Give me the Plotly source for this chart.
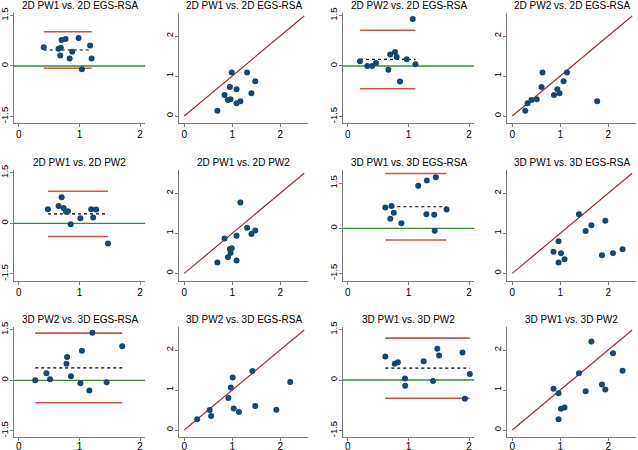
import numpy as np
import plotly.graph_objects as go

pw1_2d = [0.69, 0.84, 0.91, 0.965, 0.95, 0.99, 1.09, 1.09, 1.17, 1.31, 1.40, 1.48]
pw2_2d = [0.27, 0.87, 0.40, 0.51, 0.61, 0.63, 0.94, 0.32, 1.77, 1.14, 0.985, 1.07]
egs_2d = [0.13, 0.525, 0.40, 0.42, 0.725, 1.09, 0.67, 0.32, 0.37, 1.09, 0.57, 0.87]
pw1_3d = [0.86, 0.965, 0.965, 1.015, 1.09, 1.39, 1.53, 1.65, 1.87, 1.94, 2.10, 2.30]
pw2_3d = [1.03, 0.92, 0.27, 0.53, 0.56, 1.42, 0.97, 2.21, 1.14, 1.01, 1.92, 1.48]
egs_3d = [0.54, 0.80, 0.27, 0.50, 0.35, 1.475, 1.06, 1.20, 0.45, 1.315, 0.505, 0.60]

titles = ["2D PW1 vs. 2D EGS-RSA", "2D PW2 vs. 2D EGS-RSA",
          "2D PW1 vs. 2D PW2", "3D PW1 vs. 3D EGS-RSA",
          "3D PW2 vs. 3D EGS-RSA", "3D PW1 vs. 3D PW2"]
pairs = [(pw1_2d, egs_2d), (pw2_2d, egs_2d), (pw1_2d, pw2_2d),
         (pw1_3d, egs_3d), (pw2_3d, egs_3d), (pw1_3d, pw2_3d)]

ba_xticks = [0, 1, 2]
ba_yticks = [-1.5, 0, 1.5]
ba_ytick_labels = ["-1.5", "0", "1.5"]
sc_ticks = [0, 1, 2]
identity_span = [0, 2.5]

# ---- layout geometry (pixels) ----
W, H = 638, 450
col_px = [(14, 145), (179, 308), (343, 474), (507, 636)]
row_px = [(12.5, 122.5), (170, 281), (327, 437)]
title_px = [5.5, 162.5, 319]
x_standoff = [-1, -1, -3]
ba_yranges = {0: [-1.68, 1.59], 1: [-1.68, 1.59], 2: [-1.71, 1.58],
              3: [-1.757, 1.943], 4: [-1.684, 1.583], 5: [-1.693, 1.574]}
ba_xrange = [-0.08, 2.08]
sc_xrange = [-0.11, 2.58]
sc_yranges = [[-0.1625, 2.5875], [-0.19, 2.58], [-0.175, 2.575]]

NAVY = "#1a476f"
MAROON = "#90353b"
RED = "#cf5548"
GREEN = "#3a8a3a"
AXIS = "#808080"
FONT = "Liberation Sans, Arial, sans-serif"

fig = go.Figure()
layout = dict(width=W, height=H, margin=dict(l=0, r=0, t=0, b=0, autoexpand=False),
              paper_bgcolor="white", plot_bgcolor="white", template="none",
              showlegend=False, font=dict(family=FONT, color="black"))
shapes = []
annotations = []


def xd(p):
    return [p[0] / W, p[1] / W]


def yd(p):
    return [1 - p[1] / H, 1 - p[0] / H]


def axis_style(size=10, standoff=-1):
    return dict(showline=True, linecolor=AXIS, linewidth=1, ticks="outside",
                ticklen=3, tickcolor=AXIS, tickwidth=1, showgrid=False,
                zeroline=False, automargin=False, ticklabelstandoff=standoff,
                tickfont=dict(size=size, family=FONT, color="black"))


def names(i):
    s = "" if i == 1 else str(i)
    return f"x{s}", f"y{s}", f"xaxis{s}", f"yaxis{s}"


idx = 0
for k, (title, (a, b)) in enumerate(zip(titles, pairs)):
    row = k // 2
    col0 = (k % 2) * 2
    a = np.array(a)
    b = np.array(b)
    means = (a + b) / 2
    diffs = a - b
    md = diffs.mean()
    sd = diffs.std(ddof=1)
    lo, hi = md - 1.96 * sd, md + 1.96 * sd
    span = [means.min(), means.max()]

    # ---- Bland-Altman panel ----
    idx += 1
    xa, ya, xk, yk = names(idx)
    xs = axis_style(10, x_standoff[row])
    xs.update(domain=xd(col_px[col0]), range=ba_xrange, anchor=ya,
              tickvals=ba_xticks, ticktext=[str(v) for v in ba_xticks])
    ys = axis_style(9.5, -2)
    ys.update(domain=yd(row_px[row]), range=ba_yranges[k], anchor=xa,
              tickvals=ba_yticks, ticktext=ba_ytick_labels, tickangle=-90)
    layout[xk] = xs
    layout[yk] = ys
    shapes.append(dict(type="line", xref=f"{xa} domain", yref=ya, x0=0, x1=1,
                       y0=0, y1=0, line=dict(color=GREEN, width=1.3), layer="below"))
    for yv in (hi, lo):
        fig.add_trace(go.Scatter(x=span, y=[yv, yv], mode="lines", xaxis=xa, yaxis=ya,
                                 line=dict(color=RED, width=1.6), hoverinfo="skip"))
    fig.add_trace(go.Scatter(x=span, y=[md, md], mode="lines", xaxis=xa, yaxis=ya,
                             line=dict(color="black", width=1.2, dash="3px,3px"),
                             hoverinfo="skip"))
    fig.add_trace(go.Scatter(x=means, y=diffs, mode="markers", xaxis=xa, yaxis=ya,
                             marker=dict(color=NAVY, size=6, line=dict(width=0))))
    annotations.append(dict(text=title, xref="paper", yref="paper",
                            x=sum(xd(col_px[col0])) / 2, y=1 - title_px[row] / H,
                            xanchor="center", yanchor="middle", showarrow=False,
                            font=dict(size=10, family=FONT, color="black")))

    # ---- scatter panel ----
    idx += 1
    xa, ya, xk, yk = names(idx)
    xs = axis_style(10, x_standoff[row])
    xs.update(domain=xd(col_px[col0 + 1]), range=sc_xrange, anchor=ya,
              tickvals=sc_ticks, ticktext=[str(v) for v in sc_ticks])
    ys = axis_style(9.5, -2)
    ys.update(domain=yd(row_px[row]), range=sc_yranges[row], anchor=xa,
              tickvals=sc_ticks, ticktext=[str(v) for v in sc_ticks], tickangle=-90)
    layout[xk] = xs
    layout[yk] = ys
    fig.add_trace(go.Scatter(x=identity_span, y=identity_span, mode="lines",
                             xaxis=xa, yaxis=ya, line=dict(color=MAROON, width=1.2),
                             hoverinfo="skip"))
    fig.add_trace(go.Scatter(x=a, y=b, mode="markers", xaxis=xa, yaxis=ya,
                             marker=dict(color=NAVY, size=6, line=dict(width=0))))
    annotations.append(dict(text=title, xref="paper", yref="paper",
                            x=sum(xd(col_px[col0 + 1])) / 2, y=1 - title_px[row] / H,
                            xanchor="center", yanchor="middle", showarrow=False,
                            font=dict(size=10, family=FONT, color="black")))

layout["shapes"] = shapes
layout["annotations"] = annotations
fig.update_layout(**layout)
fig.write_html("out.html", config={"displayModeBar": False},
               post_script="document.body.style.margin='0';"
                           "document.body.style.overflow='hidden';")
